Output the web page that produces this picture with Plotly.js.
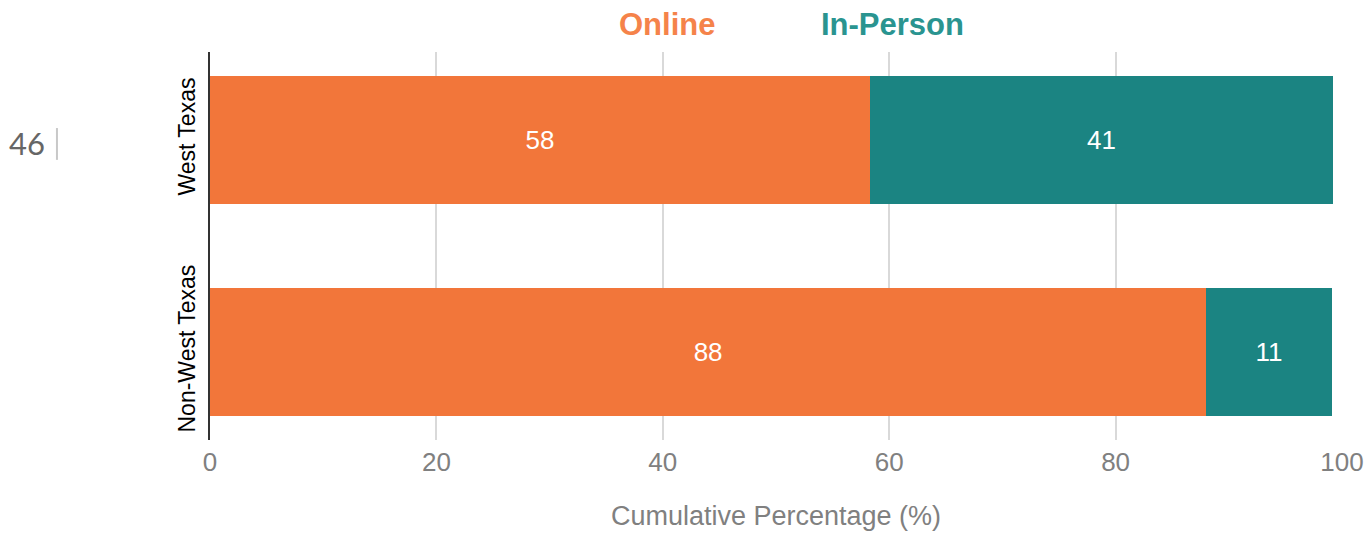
<!DOCTYPE html>
<html>
<head>
<meta charset="utf-8">
<script src="https://cdn.plot.ly/plotly-3.0.1.min.js"></script>
<style>
  html, body { margin: 0; padding: 0; background: #fff; }
  #chart { width: 1371px; height: 533px; }
</style>
</head>
<body>
<div id="chart"></div>
<script>
// stacked horizontal bars: online vs in-person share by region

var regions = ['West Texas', 'Non-West Texas'];
var online = [58.3, 88.0];     // Online %
var inPerson = [40.9, 11.1];   // In-Person %
var seriesNames = ['Online', 'In-Person'];
var pageNumber = '46';

var orange = '#F2763A';
var teal = '#1B8482';

var trOnline = {
  type: 'bar',
  orientation: 'h',
  name: seriesNames[0],
  y: regions,
  x: online,
  width: 0.6,
  marker: { color: orange },
  texttemplate: '%{x:.0f}',
  textposition: 'inside',
  insidetextanchor: 'middle',
  constraintext: 'none',
  textfont: { color: '#fff', size: 26, family: 'Liberation Sans, Arial, sans-serif' },
  hoverinfo: 'none'
};

var trInPerson = {
  type: 'bar',
  orientation: 'h',
  name: seriesNames[1],
  y: regions,
  x: inPerson,
  width: 0.6,
  marker: { color: teal },
  texttemplate: '%{x:.0f}',
  textposition: 'inside',
  insidetextanchor: 'middle',
  constraintext: 'none',
  textfont: { color: '#fff', size: 26, family: 'Liberation Sans, Arial, sans-serif' },
  hoverinfo: 'none'
};

var layout = {
  width: 1371,
  height: 533,
  barmode: 'stack',
  showlegend: false,
  paper_bgcolor: '#fff',
  plot_bgcolor: '#fff',
  margin: { l: 210, r: 29, t: 52, b: 93 },
  font: { family: 'Liberation Sans, Arial, sans-serif' },
  xaxis: {
    range: [0, 100],
    dtick: 20,
    showgrid: true,
    gridcolor: '#d9d9d9',
    gridwidth: 2,
    zeroline: false,
    showline: false,
    ticks: '',
    tickfont: { size: 26, color: '#808080' },
    ticklabelstandoff: 4,
    title: { text: 'Cumulative Percentage (%)', font: { size: 27, color: '#808080' }, standoff: 30 }
  },
  yaxis: {
    type: 'category',
    range: [1.415, -0.415],
    showline: true,
    linecolor: '#333',
    linewidth: 2,
    showgrid: false,
    zeroline: false,
    ticks: '',
    tickangle: -90,
    tickfont: { size: 23, color: '#000' },
    ticklabelstandoff: 4
  },
  annotations: [
    { xref: 'paper', yref: 'paper', x: 0.4037, y: 1.02, xanchor: 'center', yanchor: 'bottom',
      text: '<b>' + seriesNames[0] + '</b>', showarrow: false,
      font: { size: 31, color: '#F5834A' } },
    { xref: 'paper', yref: 'paper', x: 0.6025, y: 1.02, xanchor: 'center', yanchor: 'bottom',
      text: '<b>' + seriesNames[1] + '</b>', showarrow: false,
      font: { size: 31, color: '#2A9490' } },
    { xref: 'paper', yref: 'paper', x: -0.162, y: 0.765, xanchor: 'center', yanchor: 'middle',
      text: pageNumber, showarrow: false,
      font: { size: 31, color: '#666', family: 'Lato, sans-serif' } }
  ],
  shapes: [
    { type: 'line', xref: 'paper', yref: 'paper', x0: -0.1352, x1: -0.1352, y0: 0.722, y1: 0.804,
      line: { color: '#c8c8c8', width: 2 } }
  ]
};

Plotly.newPlot('chart', [trOnline, trInPerson], layout, { displayModeBar: false, staticPlot: true });
</script>
</body>
</html>
